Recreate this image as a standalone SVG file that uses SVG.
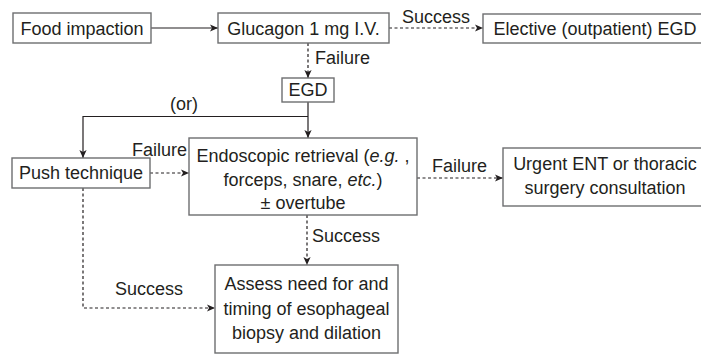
<svg xmlns="http://www.w3.org/2000/svg" width="701" height="356" viewBox="0 0 701 356">
<style>
text{font-family:"Liberation Sans",Arial,sans-serif;font-size:18px;fill:#231f20}
.m{text-anchor:middle}
.box{fill:#fff;stroke:#6d6e70;stroke-width:1.4}
.ln{fill:none;stroke:#231f20;stroke-width:1.2}
.ds{stroke-dasharray:3 2.5}
</style>
<defs>
<marker id="ah" viewBox="0 0 10 10" refX="10" refY="5" markerWidth="9" markerHeight="8" markerUnits="userSpaceOnUse" orient="auto">
<path d="M0,0.5 L10,5 L0,9.5 L2.5,5 z" fill="#231f20"/>
</marker>
</defs>
<rect width="701" height="356" fill="#fff"/>
<g id="connectors">
<path class="ln" d="M151,28 H218" marker-end="url(#ah)"/>
<path class="ln ds" d="M389,28 H483" marker-end="url(#ah)"/>
<path class="ln ds" d="M308,43 V78" marker-end="url(#ah)"/>
<path class="ln" d="M308,102 V138" marker-end="url(#ah)"/>
<path class="ln" d="M308,116.5 H83 V158" marker-end="url(#ah)"/>
<path class="ln ds" d="M150,173 H189" marker-end="url(#ah)"/>
<path class="ln ds" d="M417,178 H503" marker-end="url(#ah)"/>
<path class="ln ds" d="M307,215 V265" marker-end="url(#ah)"/>
<path class="ln ds" d="M83,188 V308 H215" marker-end="url(#ah)"/>
<text x="402" y="23">Success</text>
<text x="315" y="64">Failure</text>
<text x="184" y="110" class="m">(or)</text>
<text x="132" y="156">Failure</text>
<text x="432" y="172">Failure</text>
<text x="312" y="242">Success</text>
<text x="115" y="295">Success</text>
</g>
<g id="food">
<rect class="box" x="13" y="13" width="138" height="30"/>
<text x="82" y="35" class="m">Food impaction</text>
</g>
<g id="glucagon">
<rect class="box" x="218" y="13" width="171" height="30"/>
<text x="303.5" y="35" class="m">Glucagon 1 mg I.V.</text>
</g>
<g id="elective">
<rect class="box" x="483" y="14" width="240" height="29"/>
<text x="595" y="35" class="m">Elective (outpatient) EGD</text>
</g>
<g id="egd">
<rect class="box" x="282" y="78" width="52" height="24"/>
<text x="308" y="96" class="m">EGD</text>
</g>
<g id="push">
<rect class="box" x="12" y="158" width="138" height="30"/>
<text x="81" y="179" class="m">Push technique</text>
</g>
<g id="endoscopic">
<rect class="box" x="189" y="138" width="228" height="77"/>
<text x="303" y="162" class="m">Endoscopic retrieval (<tspan font-style="italic">e.g.</tspan> ,</text>
<text x="303" y="185.5" class="m">forceps, snare, <tspan font-style="italic">etc.</tspan>)</text>
<text x="303" y="209" class="m">± overtube</text>
</g>
<g id="urgent">
<rect class="box" x="503" y="148" width="230" height="58"/>
<text x="605" y="169.5" class="m">Urgent ENT or thoracic</text>
<text x="605" y="193.5" class="m">surgery consultation</text>
</g>
<g id="assess">
<rect class="box" x="215" y="265" width="183" height="88"/>
<text x="306.5" y="290" class="m">Assess need for and</text>
<text x="306.5" y="314.5" class="m">timing of esophageal</text>
<text x="306.5" y="339" class="m">biopsy and dilation</text>
</g>
</svg>
